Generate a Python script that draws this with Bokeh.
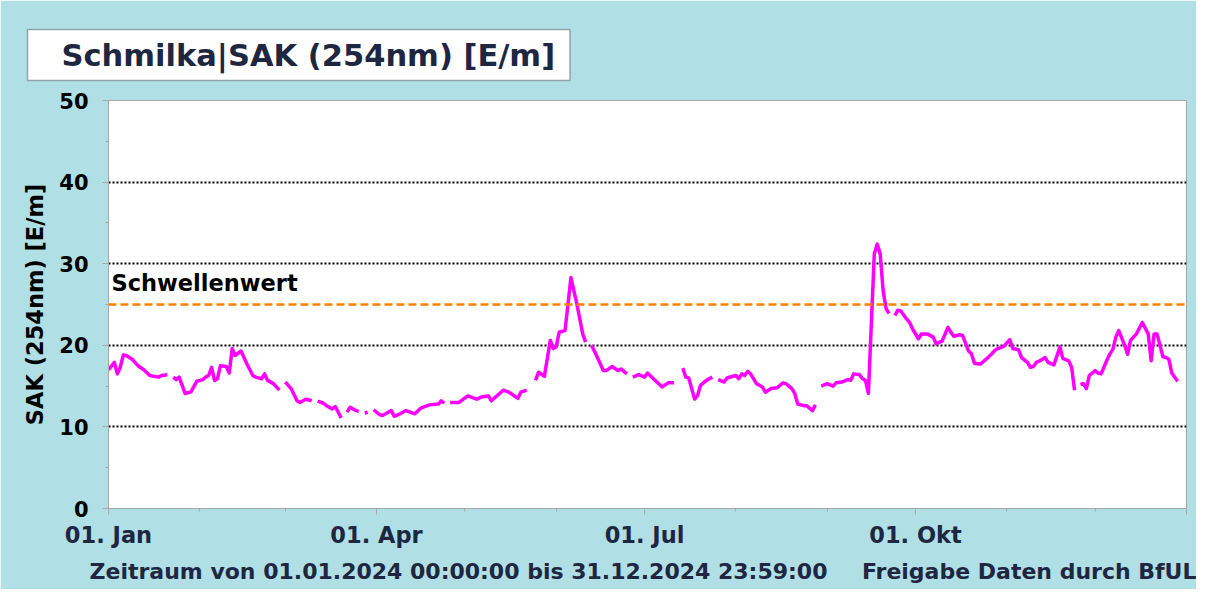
import numpy as np
import pandas as pd
from bokeh.plotting import figure
from bokeh.models import (Range1d, FixedTicker, SingleIntervalTicker, Span, Label,
                          ColumnDataSource, LinearAxis, Title)
from bokeh.embed import file_html
from bokeh.resources import INLINE

# ---------------- data (day offset from 01.01.2024, SAK value; None = gap) -------------
day = [0, 2, 3, 4, 5, 6, 8, 10, 12, 14, 17, 18, 20, 21,
       22, 23, 24, 26, 28, 30, 32, 33, 34, 35, 36, 37, 38, 40, 41, 42, 43, 45, 47, 49, 50, 52, 53, 54, 56, 57, 58, 59,
       60, 62, 64, 65, 67, 69, 70,
       71, 73, 74, 76, 77, 78, 79, 80,
       81, 82, 84, 85, 86,
       87, 88, 89,
       90, 92, 93, 95, 96, 97, 99, 101, 104, 106, 109, 112, 113, 114, 115,
       116, 119, 122, 125, 127, 129, 130, 132, 134, 136, 139, 140, 142, 143,
       145, 146, 148, 150, 151, 152, 153, 155, 157, 159, 161, 162, 163,
       164, 166, 168, 169, 171, 173, 174, 176, 177,
       178, 180, 182, 183, 185, 188, 190, 192, 193,
       195, 196, 197, 199, 200, 201, 203, 205, 206,
       207, 209, 210, 212, 213, 214, 215, 216, 217, 218, 220, 221, 222, 223, 225, 227, 229, 230, 232, 233, 234,
       236, 237, 239, 240, 241,
       242, 244, 246, 247, 249, 251, 252, 253, 255, 256, 257, 258, 260, 261, 262, 263, 264, 265, 266,
       267, 268, 269, 271, 272, 273, 275, 276, 278, 280, 281, 283, 285, 286, 287, 289, 290, 292, 293, 294,
       296, 298, 300, 301, 302, 304, 306, 307, 309, 310, 312, 313, 314, 315, 316, 318, 319, 321, 323, 324,
       326, 327, 328, 329,
       330, 331, 332, 333, 335, 336, 337, 339, 340, 341, 342, 343, 345, 346, 347, 349, 351, 353, 354, 355,
       356, 358, 359, 360, 361, 363]
sak = [17.0, 17.9, 16.5, 17.3, 18.8, 18.75, 18.3, 17.5, 17.0, 16.3, 16.1, 16.3, 16.4, None,
       16.1, 15.8, 16.1, 14.1, 14.3, 15.6, 15.8, 16.1, 16.3, 17.3, 15.7, 15.9, 17.5, 17.4, 16.6, 19.6, 18.75, 19.3,
       17.7, 16.3, 16.1, 15.9, 16.5, 15.7, 15.3, 14.9, 14.5, None,
       15.5, 14.7, 13.2, 13.0, 13.4, 13.2, None,
       13.15, 12.9, 12.6, 12.2, 12.5, 11.8, 11.1, None,
       11.8, 12.4, 12.0, 11.9, None,
       11.7, 11.8, None,
       12.1, 11.5, 11.4, 11.8, 12.0, 11.3, 11.6, 12.0, 11.6, 12.3, 12.7, 12.8, 13.2, 12.9, None,
       13.0, 13.0, 13.8, 13.4, 13.7, 13.8, 13.2, 13.85, 14.5, 14.25, 13.5, 14.25, 14.5, None,
       15.7, 16.7, 16.2, 20.6, 19.6, 19.8, 21.6, 21.8, 28.3, 25.1, 21.4, 20.4, None,
       20.0, 18.5, 16.9, 16.9, 17.4, 16.9, 17.1, 16.5, None,
       16.1, 16.4, 16.1, 16.6, 15.9, 14.9, 15.4, 15.4, None,
       17.2, 16.1, 16.0, 13.4, 13.85, 15.1, 15.7, 16.1, None,
       15.8, 15.5, 16.0, 16.2, 16.3, 15.9, 16.5, 16.3, 16.8, 16.5, 15.3, 15.1, 14.9, 14.25, 14.7, 14.8, 15.4, 15.3,
       14.7, 14.1, 12.8, 12.6, 12.6, 12.0, 12.7, None,
       15.0, 15.3, 15.0, 15.4, 15.5, 15.8, 15.7, 16.5, 16.4, 15.9, 15.7, 14.1, 31.2, 32.4, 31.2, 26.7, 24.5, 23.9, None,
       23.65, 24.3, 24.2, 23.2, 22.8, 22.0, 20.8, 21.4, 21.4, 21.0, 20.2, 20.5, 22.2, 21.6, 21.1, 21.3, 21.2, 19.3,
       18.95, 17.8, 17.7, 18.3, 19.0, 19.4, 19.6, 19.9, 20.7, 19.6, 19.45, 18.5, 17.9, 17.3, 17.4, 17.9, 18.05,
       18.5, 17.9, 17.6, 19.8, 18.4, 18.1, 17.3, 14.5, None,
       15.2, 15.3, 14.7, 16.3, 16.9, 16.6, 16.5, 18.2, 18.95, 19.5, 21.0, 21.8, 20.0, 18.9, 20.6, 21.4, 22.8, 21.4,
       18.1, 21.4, 21.4, 18.6, 18.5, 18.3, 16.6, 15.6]

threshold = 25
major_dates = ["2024-01-01", "2024-04-01", "2024-07-01", "2024-10-01", "2025-01-01"]
major_labels = ["01. Jan", "01. Apr", "01. Jul", "01. Okt", ""]
minor_dates = ["2024-02-01", "2024-03-01", "2024-05-01", "2024-06-01",
               "2024-08-01", "2024-09-01", "2024-11-01", "2024-12-01"]
series_name = "Schmilka|SAK (254nm) [E/m]"
y_title = "SAK (254nm) [E/m]"
footer_texts = ["Zeitraum von 01.01.2024 00:00:00 bis 31.12.2024 23:59:00",
                "Freigabe Daten durch BfUL"]


def ms(d):
    return float(pd.Timestamp(d).value // 10**6)


t = pd.Timestamp("2024-01-01") + pd.to_timedelta(day, unit="D")
src = ColumnDataSource(dict(x=t, y=np.array(sak, dtype=float)))

FONT = "DejaVu Sans"
NAVY = "#1E2640"
BG = "#B0DFE5"

W, H = 1196, 589
ML, MR, MT, MB = 108, 10, 100, 81
FW, FH = W - ML - MR, H - MT - MB
x0, x1 = ms(major_dates[0]), ms(major_dates[-1])
ms_per_px = (x1 - x0) / FW

p = figure(width=W, height=H, output_backend="svg", toolbar_location=None,
           x_axis_type="datetime",
           x_range=Range1d(x0, x1),
           y_range=Range1d(0, 50),
           min_border_left=ML, min_border_right=MR, min_border_top=MT, min_border_bottom=MB)
p.border_fill_color = BG
p.background_fill_color = "white"
p.outline_line_color = "#A8A8A8"

# grid
p.xgrid.visible = False
p.ygrid.ticker = FixedTicker(ticks=[0, 10, 20, 30, 40])
p.ygrid.grid_line_color = "black"
p.ygrid.grid_line_dash = "2 2"
p.ygrid.grid_line_width = 2

# axes
for ax in (p.xaxis[0], p.yaxis[0]):
    ax.axis_line_color = "#A8A8A8"
    ax.major_tick_line_color = "#A8A8A8"
    ax.minor_tick_line_color = "#A8A8A8"
    ax.major_tick_in = 0
    ax.major_tick_out = 6
    ax.minor_tick_in = 0
    ax.minor_tick_out = 3
    ax.major_label_text_font = FONT
    ax.major_label_text_font_style = "bold"

p.xaxis.ticker = FixedTicker(ticks=[ms(d) for d in major_dates],
                             minor_ticks=[ms(d) for d in minor_dates])
p.xaxis.major_label_overrides = {ms(d): l for d, l in zip(major_dates, major_labels)}
p.xaxis.major_label_text_font_size = "22.5px"
p.xaxis.major_label_text_color = NAVY
p.xaxis.major_label_standoff = 7

p.yaxis.ticker = SingleIntervalTicker(interval=10, num_minor_ticks=2)
p.yaxis.major_label_text_font_size = "21px"
p.yaxis.major_label_text_color = "black"
p.yaxis.major_label_standoff = 14
p.yaxis.axis_label = y_title
p.yaxis.axis_label_text_font = FONT
p.yaxis.axis_label_text_font_style = "bold"
p.yaxis.axis_label_text_font_size = "22.5px"
p.yaxis.axis_label_text_color = "black"
p.yaxis.axis_label_standoff = 8

# footer row: a second, line-less axis below the date axis carrying the two texts
foot_pos = [x0 + (458 - ML) * ms_per_px, x0 + (1029 - ML) * ms_per_px]
foot_axis = LinearAxis(ticker=FixedTicker(ticks=foot_pos, minor_ticks=[]),
                       major_label_overrides={v: s for v, s in zip(foot_pos, footer_texts)},
                       axis_line_color=None, major_tick_line_color=None, minor_tick_line_color=None,
                       major_tick_out=0, major_tick_in=0, minor_tick_out=0, minor_tick_in=0,
                       major_label_standoff=8,
                       major_label_text_font=FONT, major_label_text_font_style="bold",
                       major_label_text_font_size="22px", major_label_text_color=NAVY)
p.add_layout(foot_axis, "below")

# threshold
p.add_layout(Span(location=threshold, dimension="width", line_color="#FF8000",
                  line_dash="8 4", line_width=2.5))
p.add_layout(Label(x=x0 + 3 * ms_per_px, y=threshold, y_offset=9,
                   text="Schwellenwert", text_font=FONT, text_font_style="bold",
                   text_font_size="22.5px", text_color="black", text_baseline="bottom"))

# series
line = p.line("x", "y", source=src, line_color="#FF00FF", line_width=3.5, line_join="round")

# legend box (series name) above the plot area
PAD_L, PAD_R, PAD_T, PAD_B = 34, 15, 8, 8
legend_title = Title(text=series_name, align="left", offset=27 - ML, standoff=40,
                     text_font=FONT, text_font_style="bold", text_font_size="30.5px",
                     text_color=NAVY, background_fill_color="white",
                     border_line_color="#8FA3AD", border_line_width=1.5,
                     padding=(PAD_L, PAD_R, PAD_T, PAD_B))
p.add_layout(legend_title, "above")

open("out.html", "w").write(file_html(p, INLINE))
